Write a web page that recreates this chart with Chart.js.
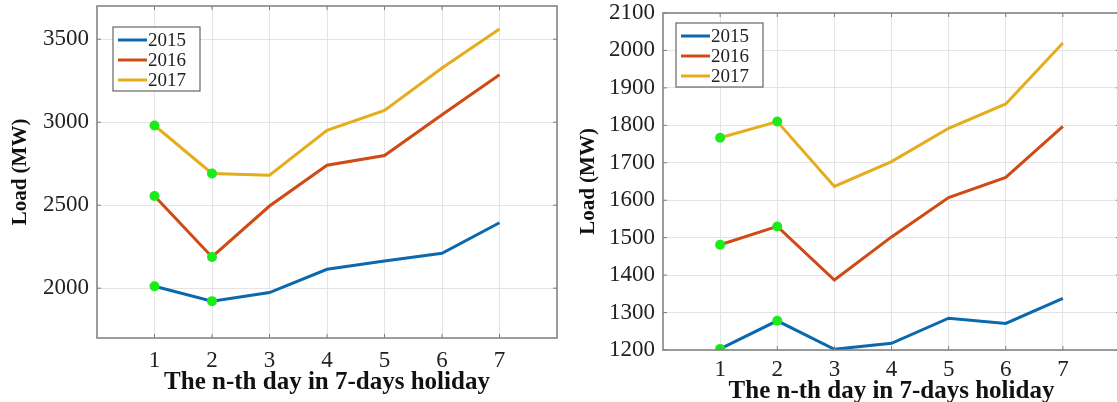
<!DOCTYPE html>
<html>
<head>
<meta charset="utf-8">
<script src="https://cdn.jsdelivr.net/npm/chart.js@4.4.1/dist/chart.umd.min.js"></script>
<style>
    html, body { margin: 0; padding: 0; background: #fff; overflow: hidden; }
    #page { position: relative; width: 1117px; height: 402px; overflow: hidden; }
    .box { position: absolute; top: 0; }
    #leftBox { left: 0; width: 560px; height: 402px; }
    #rightBox { left: 560px; width: 570px; height: 410px; }
</style>
</head>
<body>
<div id="page">
    <div class="box" id="leftBox"><canvas id="leftChart"></canvas></div>
    <div class="box" id="rightBox"><canvas id="rightChart"></canvas></div>
</div>
<script>
const days = [1, 2, 3, 4, 5, 6, 7];
const markedDays = [1, 2];
const years = ['2015', '2016', '2017'];

const leftLoad2015 = [2012, 1922, 1974, 2114, 2164, 2210, 2394];
const leftLoad2016 = [2555, 2188, 2495, 2741, 2799, 3045, 3286];
const leftLoad2017 = [2980, 2691, 2681, 2951, 3071, 3326, 3562];

const rightLoad2015 = [1203, 1278, 1202, 1218, 1285, 1271, 1338];
const rightLoad2016 = [1481, 1530, 1387, 1502, 1607, 1661, 1797];
const rightLoad2017 = [1767, 1810, 1637, 1703, 1792, 1857, 2020];

const leftYTicks = [2000, 2500, 3000, 3500];
const rightYTicks = [1200, 1300, 1400, 1500, 1600, 1700, 1800, 1900, 2000, 2100];
const xTicks = [1, 2, 3, 4, 5, 6, 7];

const colors = {
    blue: '#0b68ad',
    red: '#cf4a14',
    yellow: '#e5ac1c',
    marker: '#19ec19',
    grid: '#e4e4e4',
    frame: '#7d7d7d',
    text: '#222'
};
const serif = '"Liberation Serif", "Times New Roman", serif';

// matlab-style box: frame on all four sides, inward ticks, legend inside the plot
const framePlugin = {
    id: 'frameBox',
    afterDraw(chart) {
        const { ctx, chartArea: a } = chart;
        const xs = chart.scales.x, ys = chart.scales.y;
        ctx.save();
        ctx.strokeStyle = colors.frame;
        ctx.lineWidth = 1.5;
        ctx.strokeRect(a.left, a.top, a.right - a.left, a.bottom - a.top);
        ctx.lineWidth = 1;
        ctx.beginPath();
        xs.ticks.forEach(t => {
            const px = xs.getPixelForValue(t.value);
            ctx.moveTo(px, a.bottom); ctx.lineTo(px, a.bottom - 4);
            ctx.moveTo(px, a.top); ctx.lineTo(px, a.top + 4);
        });
        ys.ticks.forEach(t => {
            const py = ys.getPixelForValue(t.value);
            ctx.moveTo(a.left, py); ctx.lineTo(a.left + 4, py);
            ctx.moveTo(a.right, py); ctx.lineTo(a.right - 4, py);
        });
        ctx.stroke();
        ctx.restore();

        const opt = chart.options.plugins.insetLegend;
        const bx = a.left + opt.x, by = a.top + opt.y;
        const w = 87, h = 64;
        ctx.save();
        ctx.fillStyle = '#fff';
        ctx.fillRect(bx, by, w, h);
        ctx.strokeStyle = '#666';
        ctx.lineWidth = 1.2;
        ctx.strokeRect(bx, by, w, h);
        ctx.font = '19px ' + serif;
        ctx.textBaseline = 'middle';
        chart.data.datasets.forEach((ds, i) => {
            const y = by + 13 + i * 20;
            ctx.strokeStyle = ds.borderColor;
            ctx.lineWidth = 3;
            ctx.beginPath();
            ctx.moveTo(bx + 5, y);
            ctx.lineTo(bx + 34, y);
            ctx.stroke();
            ctx.fillStyle = colors.text;
            ctx.fillText(ds.label, bx + 35, y + 1);
        });
        ctx.restore();
    }
};

function makeDataset(label, values, color) {
    return {
        label: label,
        data: values.map((v, i) => ({ x: days[i], y: v })),
        borderColor: color,
        borderWidth: 3,
        pointRadius: ctx => markedDays.includes(days[ctx.dataIndex]) ? 5 : 0,
        pointBackgroundColor: colors.marker,
        pointBorderColor: colors.marker,
        pointBorderWidth: 0,
        tension: 0
    };
}

function makeChart(id, series, yMin, yMax, yTicks, dims) {
    const ctx = document.getElementById(id).getContext('2d');
    return new Chart(ctx, {
        type: 'line',
        data: {
            datasets: [
                makeDataset(years[0], series[0], colors.blue),
                makeDataset(years[1], series[1], colors.red),
                makeDataset(years[2], series[2], colors.yellow)
            ]
        },
        options: {
            responsive: true,
            maintainAspectRatio: false,
            animation: false,
            layout: {
                autoPadding: false,
                padding: { top: dims.top, right: dims.right, left: 0, bottom: 0 }
            },
            plugins: {
                legend: { display: false },
                tooltip: { enabled: false },
                insetLegend: { x: dims.legendX, y: dims.legendY }
            },
            scales: {
                x: {
                    type: 'linear',
                    min: 0,
                    max: 8,
                    afterBuildTicks: scale => { scale.ticks = xTicks.map(v => ({ value: v })); },
                    afterFit: scale => {
                        scale.height = dims.xAxisHeight;
                        scale.paddingLeft = 0;
                        scale.paddingRight = 0;
                    },
                    grid: { color: colors.grid, drawTicks: false },
                    border: { display: false },
                    ticks: {
                        padding: dims.xTickPad,
                        color: colors.text,
                        font: { family: serif, size: 23 },
                        maxRotation: 0,
                        callback: v => String(v)
                    },
                    title: {
                        display: true,
                        text: 'The n-th day in 7-days holiday',
                        color: '#111',
                        font: { family: serif, size: 25, weight: 'bold' },
                        padding: { top: 0, bottom: dims.xTitlePad }
                    }
                },
                y: {
                    min: yMin,
                    max: yMax,
                    afterBuildTicks: scale => { scale.ticks = yTicks.map(v => ({ value: v })); },
                    afterFit: scale => {
                        scale.width = dims.yAxisWidth;
                        scale.paddingTop = 0;
                        scale.paddingBottom = 0;
                    },
                    grid: { color: colors.grid, drawTicks: false },
                    border: { display: false },
                    ticks: {
                        padding: 8,
                        color: colors.text,
                        font: { family: serif, size: 23 },
                        callback: v => String(v)
                    },
                    title: {
                        display: true,
                        text: 'Load (MW)',
                        color: '#111',
                        font: { family: serif, size: 21, weight: 'bold' },
                        padding: { top: dims.yTitlePad, bottom: 0 }
                    }
                }
            }
        },
        plugins: [framePlugin]
    });
}

makeChart('leftChart', [leftLoad2015, leftLoad2016, leftLoad2017], 1700, 3700, leftYTicks, {
    top: 6, right: 3, yAxisWidth: 97, xAxisHeight: 64,
    xTickPad: 9, xTitlePad: 4, yTitlePad: 8,
    legendX: 16, legendY: 21
});

makeChart('rightChart', [rightLoad2015, rightLoad2016, rightLoad2017], 1200, 2100, rightYTicks, {
    top: 13, right: 10, yAxisWidth: 103, xAxisHeight: 60,
    xTickPad: 6, xTitlePad: 3, yTitlePad: 16,
    legendX: 13, legendY: 10
});
</script>
</body>
</html>
